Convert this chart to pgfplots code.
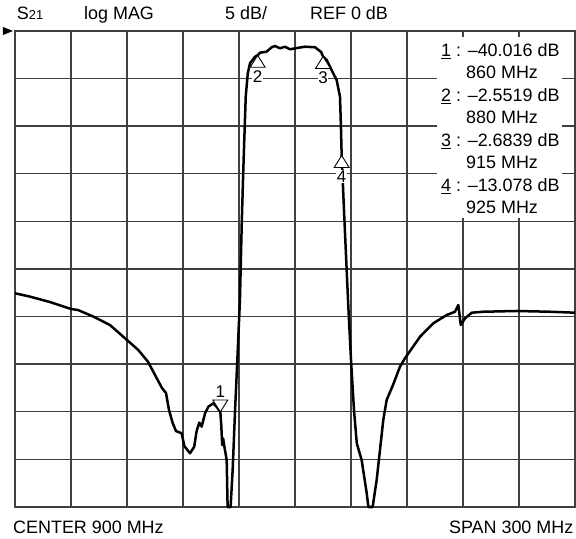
\documentclass[border=0pt]{standalone}
\usepackage{pgfplots}
\pgfplotsset{compat=1.18}
\usepackage{fontspec}
\setmainfont{Liberation Sans}

\pgfdeclareplotmark{mkup}{%
  \pgfpathmoveto{\pgfpoint{0bp}{0bp}}%
  \pgfpathlineto{\pgfpoint{-7.5bp}{-12bp}}%
  \pgfpathlineto{\pgfpoint{7.5bp}{-12bp}}%
  \pgfpathclose\pgfusepathqfillstroke}
\pgfdeclareplotmark{mkdown}{%
  \pgfpathmoveto{\pgfpoint{0bp}{0bp}}%
  \pgfpathlineto{\pgfpoint{-7.5bp}{12bp}}%
  \pgfpathlineto{\pgfpoint{7.5bp}{12bp}}%
  \pgfpathclose\pgfusepathqfillstroke}
\pgfdeclareplotmark{refarrow}{%
  \pgfpathmoveto{\pgfpoint{-2bp}{0bp}}%
  \pgfpathlineto{\pgfpoint{-12bp}{4bp}}%
  \pgfpathlineto{\pgfpoint{-12bp}{-4bp}}%
  \pgfpathclose\pgfusepathqfill}

\pgfplotstableread{
f db
750 -27.55
758 -27.9
768.75 -28.47
780 -29.20
783.75 -29.31
792 -30.0
800.9 -30.89
810 -32.46
816 -33.5
821.25 -34.74
826 -36.5
828.75 -37.50
830.9 -38.03
832.5 -39.81
834.5 -41.2
836.25 -42.02
839.3 -42.26
840.7 -43.59
843.75 -44.36
846.0 -43.67
847.3 -42.02
848.7 -41.14
850.0 -41.56
851.8 -40.16
853.6 -39.46
856.2 -39.11
858.0 -39.46
860 -40.02
860.5 -41.4
861 -43.5
861.5 -42.8
862.2 -43.7
863.4 -45.06
863.9 -50
865.5 -50
866.6 -46.11
867.9 -39.81
869.1 -34.56
870.5 -28.26
871.5 -20
872.3 -14.60
873.6 -6.90
874.7 -4.44
875.9 -3.39
878.6 -2.70
880 -2.55
881.25 -2.28
884.8 -2.17
887.5 -1.71
889.3 -1.58
892.0 -1.82
894.6 -1.65
897.3 -1.92
900 -1.82
905.4 -1.65
910.7 -1.71
914.0 -2.2
915 -2.68
917.0 -3.05
919.6 -4.10
922.3 -5.15
924.1 -6.90
924.6 -10
925 -13.08
926.4 -19.51
928.4 -28.26
930 -34.56
931.6 -39.81
933.1 -43.31
935.7 -45.06
938.4 -48.53
939.3 -50
941.6 -50
943.75 -47.16
947.3 -40.86
949.1 -38.76
952.5 -37.18
956.25 -35.26
958.9 -34.38
967.0 -32.11
974.1 -30.70
981.3 -29.83
985.7 -29.49
987.5 -28.78
988.8 -30.88
991.1 -30.18
994.7 -29.59
1000.9 -29.49
1018.75 -29.41
1036.6 -29.49
1050 -29.59
}\trace

\begin{document}
\begin{tikzpicture}
\begin{axis}[
  at={(0,0)}, anchor=south west,
  scale only axis, width=560bp, height=476bp,
  xmin=750, xmax=1050, ymin=-50, ymax=0,
  xtick={750,780,810,840,870,900,930,960,990,1020,1050},
  ytick={-50,-45,-40,-35,-30,-25,-20,-15,-10,-5,0},
  xticklabels={}, yticklabels={},
  major tick length=0pt,
  grid=major,
  grid style={line width=1.4bp, black!75},
  axis line style={line width=1.4bp, black!75},
  clip=false,
]
\addplot[black, line width=2.5bp, line join=round] table[x=f, y=db] {\trace};
\addplot[only marks, mark=refarrow, mark options={fill=black}] coordinates {(750,0)};
\addplot[only marks, mark=mkup, mark options={fill=white, draw=black, line width=0.9bp},
  nodes near coords, point meta=explicit symbolic,
  every node near coord/.style={anchor=center, yshift=-21bp, fill=white, inner sep=0.6bp,
    font=\fontsize{17}{17}\selectfont}]
  table[meta=lab] {
x y lab
880 -2.5519 2
915 -2.6839 3
925 -13.078 4
};
\addplot[only marks, mark=mkdown, mark options={fill=white, draw=black, line width=0.9bp},
  nodes near coords, point meta=explicit symbolic,
  every node near coord/.style={anchor=center, yshift=20bp, fill=white, inner sep=0.6bp,
    font=\fontsize{17}{17}\selectfont}]
  table[meta=lab] {
x y lab
860 -40.016 1
};
\end{axis}
\fill[white] (422bp,289bp) rectangle (547bp,470bp);
\begin{scope}[every node/.style={inner sep=0pt, anchor=base west, font=\fontsize{18}{21}\selectfont}]
\node at (426bp,450.5bp) {\underline{1} : –40.016 dB};
\node at (451bp,428.5bp) {860 MHz};
\node at (426bp,405bp) {\underline{2} : –2.5519 dB};
\node at (451bp,383.5bp) {880 MHz};
\node at (426bp,360bp) {\underline{3} : –2.6839 dB};
\node at (451bp,338.5bp) {915 MHz};
\node at (426bp,315bp) {\underline{4} : –13.078 dB};
\node at (451bp,293.5bp) {925 MHz};
\node at (1.7bp,487.5bp) {S{\fontsize{13}{13}\selectfont 21}};
\node at (69bp,487.5bp) {log MAG};
\node at (210bp,487.5bp) {5 dB/};
\node at (295bp,487.5bp) {REF 0 dB};
\node at (-2bp,-26bp) {CENTER 900 MHz};
\node[anchor=base east] at (558.5bp,-26bp) {SPAN 300 MHz};
\end{scope}
\pgfresetboundingbox
\path[use as bounding box] (-15bp,-32bp) rectangle (561bp,507bp);
\end{tikzpicture}
\end{document}
